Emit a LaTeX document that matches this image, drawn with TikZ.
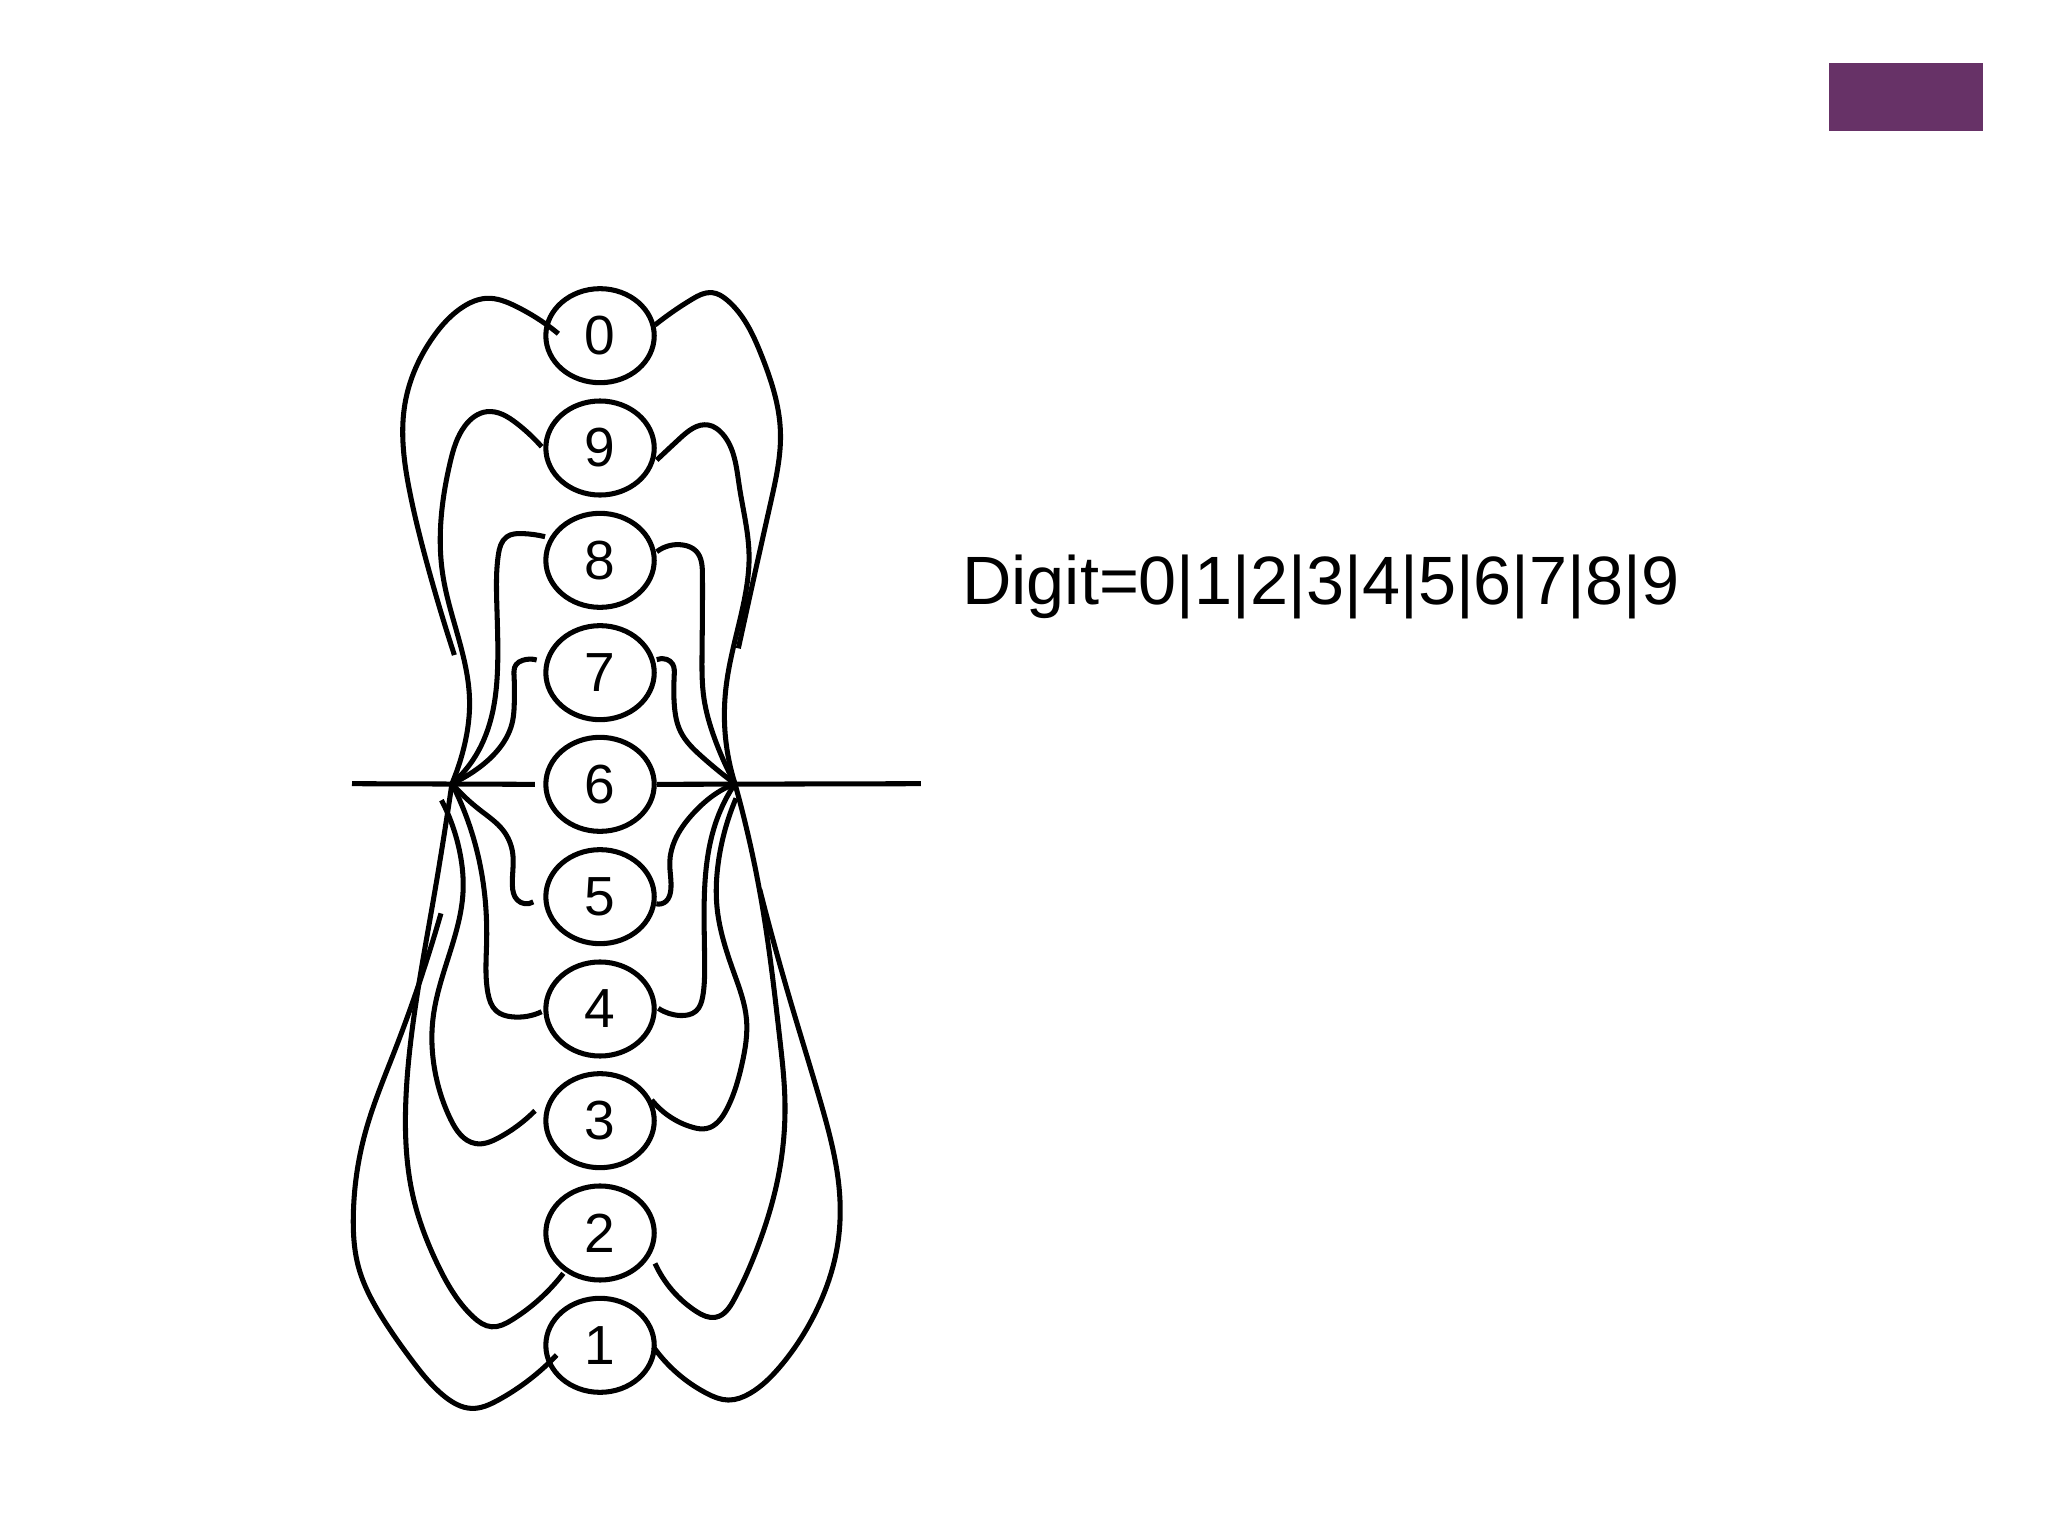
\documentclass[tikz,border=0pt]{standalone}
\usepackage{fontspec}
\setmainfont{Liberation Sans}
\usetikzlibrary{shapes.geometric,hobby}
\definecolor{plum}{RGB}{103,50,103}
\begin{document}
\begin{tikzpicture}[x=0.1mm,y=-0.1mm,
  digit/.style={ellipse, draw, line width=1.1pt, minimum width=8.3mm, minimum height=7.2mm, inner sep=0pt, font=\fontsize{12}{14}\selectfont},
  wire/.style={line width=1.1pt, line join=round, line cap=butt},
  curve/.style={wire, use Hobby shortcut}]
\useasboundingbox (0,0) rectangle (1568,1176);
\node[fill=plum, minimum width=11.79mm, minimum height=5.21mm, inner sep=0pt] (bar) at (1459.35,74.25) {};
\node[anchor=base west, inner sep=0pt, font=\fontsize{14.9}{18}\selectfont] (title) at (736,463) {Digit=0|1|2|3|4|5|6|7|8|9};
% digit nodes
\node[digit] (d0) at (459.4,257) {0};
\node[digit] (d9) at (459.4,343) {9};
\node[digit] (d8) at (459.4,429) {8};
\node[digit] (d7) at (459.4,515) {7};
\node[digit] (d6) at (459.4,600.5) {6};
\node[digit] (d5) at (459.4,686.5) {5};
\node[digit] (d4) at (459.4,772.5) {4};
\node[digit] (d3) at (459.4,858) {3};
\node[digit] (d2) at (459.4,944) {2};
\node[digit] (d1) at (459.4,1030) {1};
\coordinate (L) at (346,600);
\coordinate (R) at (562.7,600);
\coordinate (inL) at (269.5,600);
\coordinate (outR) at (705,600);
% straight path through 6
\draw[wire] (inL) -- ([xshift=-0.65mm]d6.west);
\draw[wire] (d6.east) -- (outR);
% 0
\draw[curve] (427.5,255.5) .. (417,247.5) .. (395.6,234.8) .. (372.6,228.4) .. (354.7,234.8) .. (331.8,257.8) .. (310.1,308.8) .. (308.5,338) .. (314,378) .. (326,428) .. (347.9,501.5);
\draw[curve] (501.5,248.8) .. (530,229) .. (545,224) .. (557,230) .. (583,272) .. (597.5,330) .. (590,385) .. (565.3,496.4);
% 9
\draw[curve] (414.7,342) .. (395.6,324.1) .. (372.6,315.2) .. (356,326) .. (344.5,354.7) .. (337.5,400) .. (339,440) .. (352,492) .. (359.5,536) .. (354.7,574.2) .. (L);
\draw[curve] (502.8,352.2) .. (520.6,335.6) .. (542.3,325.4) .. (553,332) .. (566,372) .. (573.5,425) .. (568,468) .. (556,525) .. (555.5,565) .. (R);
% 8
\draw[curve] (417.3,410.9) .. (400,408.5) .. (388,411) .. (381.5,425) .. (380.3,460) .. (381,510) .. (376,550) .. (362,582) .. (L);
\draw[curve] (502.8,422.4) .. (523.2,417.3) .. (533,422) .. (537.8,440) .. (537.5,500) .. (539,535) .. (547,565) .. (R);
% 7
\draw[curve] (410.9,505.3) .. (400,505.6) .. (395,509) .. (393.6,518) .. (393.8,535) .. (392,554) .. (383,572) .. (365,589) .. (L);
\draw[curve] (502.8,505) .. (510.4,504.8) .. (515,508.5) .. (516.2,517) .. (516.3,540) .. (521,560) .. (537,579) .. (R);
% 5
\draw[curve] (L) .. (367.5,620.2) .. (385.4,636) .. (392.5,653) .. (392.3,678) .. (396,689) .. (408.3,690.5);
\draw[curve] (R) .. (549,607) .. (530.8,622.7) .. (516.8,643.1) .. (512.8,660) .. (513.5,682) .. (510,690) .. (502.5,692);
% 4
\draw[curve] (L) .. (365,650.8) .. (372.6,720) .. (373.5,760) .. (380,774) .. (392,778.5) .. (414.7,774.6);
\draw[curve] (R) .. (548.7,627.8) .. (539.5,680) .. (539.5,740) .. (538,763) .. (533,774) .. (521,777.5) .. (504,772);
% 3
\draw[curve] (338,612.6) .. (352.2,653.3) .. (354.5,683) .. (342,737) .. (331.5,780) .. (333,820) .. (345,857) .. (364,875.5) .. (382,871) .. (409.6,850.4);
\draw[curve] (563.5,611.2) .. (550,660) .. (549,695) .. (562,745) .. (571.5,780) .. (568,815) .. (556,850) .. (541,864) .. (530,863) .. (499,842.2);
% 2
\draw[curve] (L) .. (331.8,689) .. (315.2,791.2) .. (310.5,850) .. (316,915) .. (335,968) .. (362,1008) .. (376.4,1015.8) .. (392,1010.5) .. (431.3,974.9);
\draw[curve] (R) .. (583,690) .. (597,795) .. (601,845) .. (595,905) .. (580,955) .. (562,995) .. (548,1008.5) .. (533,1004) .. (501.5,967.3);
% 1
\draw[curve] (337.6,699.3) .. (302.4,803.9) .. (279.5,867.7) .. (270.5,931.5) .. (274.4,969.8) .. (292.2,1008.1) .. (315.2,1041.3) .. (340.7,1069.4) .. (361.1,1078.3) .. (381.5,1071.9) .. (426.2,1037.4);
\draw[curve] (581.7,681) .. (604.9,765.6) .. (627.8,842.2) .. (643.1,918.8) .. (640.6,957) .. (622.7,1008.1) .. (597.2,1046.4) .. (574.2,1066.8) .. (557.6,1071.9) .. (541.1,1066.8) .. (500.2,1031.1);
\end{tikzpicture}
\end{document}
